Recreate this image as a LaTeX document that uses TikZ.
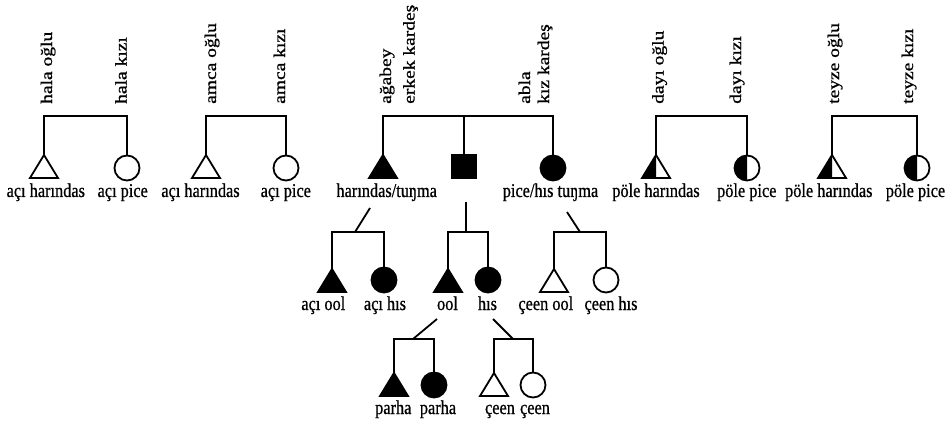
\documentclass[tikz,border=0pt]{standalone}
\usepackage{fontspec}
\setmainfont[FakeBold=0.8]{Liberation Serif}
\begin{document}
\begin{tikzpicture}[x=1pt,y=-1pt,
  ln/.style={line width=1.8pt},
  lbl/.style={font=\fontsize{19.5}{22}\selectfont, inner sep=0pt, xscale=0.836, anchor=base},
  vlbl/.style={font=\fontsize{19.5}{22}\selectfont, inner sep=0pt, xscale=0.836, rotate=90, anchor=base west},
  pics/tri/.style={code={\draw[ln,fill=white] (0,0) -- (14,23) -- (-14,23) -- cycle;}},
  pics/ftri/.style={code={\draw[ln,fill=black] (0,0) -- (14,23) -- (-14,23) -- cycle;}},
  pics/htri/.style={code={\fill[black] (0,0) -- (0,23) -- (-14,23) -- cycle;
      \draw[ln] (0,0) -- (14,23) -- (-14,23) -- cycle;}},
  pics/circ/.style={code={\draw[ln,fill=white] (0,12.5) circle[radius=12.5];}},
  pics/fcirc/.style={code={\draw[ln,fill=black] (0,12.5) circle[radius=12.5];}},
  pics/hcirc/.style={code={\fill[black] (0,25) arc[start angle=90,end angle=270,radius=12.5] -- cycle;
      \draw[ln] (0,12.5) circle[radius=12.5];}},
  pics/fsq/.style={code={\draw[ln,fill=black] (-12,0) rectangle (12,23);}}
]
\useasboundingbox (0,0) rectangle (952,427);
\fill[white] (0,0) rectangle (952,427);

% ---------- level 1 ----------
% hala
\coordinate (g1b) at (44,116);
\coordinate (p1a) at (44,155);
\coordinate (p1b) at (127,155.5);
\draw[ln] (p1a) -- (g1b) -| (p1b);
\pic at (p1a) {tri}; \pic at (p1b) {circ};
\node[vlbl] (v1a) at (52,104) {hala oğlu};
\node[vlbl] (v1b) at (126.5,104) {hala kızı};
\node[lbl] (t1a) at (45.8,197) {açı harındas};
\node[lbl] (t1b) at (122.7,197) {açı pice};

% amca
\coordinate (g2b) at (206,116);
\coordinate (p2a) at (206,155);
\coordinate (p2b) at (286,155.5);
\draw[ln] (p2a) -- (g2b) -| (p2b);
\pic at (p2a) {tri}; \pic at (p2b) {circ};
\node[vlbl] (v2a) at (216,104) {amca oğlu};
\node[vlbl] (v2b) at (285,104) {amca kızı};
\node[lbl] (t2a) at (200.5,197) {açı harındas};
\node[lbl] (t2b) at (285.8,197) {açı pice};

% siblings
\coordinate (g3b) at (383,116);
\coordinate (p3a) at (383,155);
\coordinate (p3m) at (464,155);
\coordinate (p3b) at (553,155.5);
\draw[ln] (p3a) -- (g3b) -| (p3b);
\draw[ln] (p3m) -- (p3m |- g3b);
\pic at (p3a) {ftri}; \pic at (p3m) {fsq}; \pic at (p3b) {fcirc};
\node[vlbl] (v3a) at (391,104) {ağabey};
\node[vlbl] (v3b) at (414.5,104) {erkek kardeş};
\node[vlbl] (v3c) at (530,104) {abla};
\node[vlbl] (v3d) at (549,104) {kız kardeş};
\node[lbl] (t3a) at (386.7,197) {harındas/tuŋma};
\node[lbl] (t3b) at (550.5,197) {pice/hıs tuŋma};

% dayı
\coordinate (g4b) at (656,116);
\coordinate (p4a) at (656,155);
\coordinate (p4b) at (747,155.5);
\draw[ln] (p4a) -- (g4b) -| (p4b);
\pic at (p4a) {htri}; \pic at (p4b) {hcirc};
\node[vlbl] (v4a) at (663.5,104) {dayı oğlu};
\node[vlbl] (v4b) at (741,104) {dayı kızı};
\node[lbl] (t4a) at (656,197) {pöle harındas};
\node[lbl] (t4b) at (746.8,197) {pöle pice};

% teyze
\coordinate (g5b) at (832,116);
\coordinate (p5a) at (832,155);
\coordinate (p5b) at (917,155.5);
\draw[ln] (p5a) -- (g5b) -| (p5b);
\pic at (p5a) {htri}; \pic at (p5b) {hcirc};
\node[vlbl] (v5a) at (839,104) {teyze oğlu};
\node[vlbl] (v5b) at (913,104) {teyze kızı};
\node[lbl] (t5a) at (828.8,197) {pöle harındas};
\node[lbl] (t5b) at (915.5,197) {pöle pice};

% ---------- level 2 ----------
\coordinate (aT) at (370,208);
\coordinate (aJ) at (355,232);
\coordinate (aA) at (332,269);
\coordinate (aB) at (384,267.5);
\draw[ln] (aT) -- (aJ);
\draw[ln] (aA) |- (aJ) -| (aB);
\pic at (aA) {ftri}; \pic at (aB) {fcirc};
\node[lbl] (tAa) at (323.3,310) {açı ool};
\node[lbl] (tAb) at (385,310) {açı hıs};

\coordinate (bT) at (466,202);
\coordinate (bJ) at (466,232);
\coordinate (bA) at (448,269);
\coordinate (bB) at (488,267.5);
\draw[ln] (bT) -- (bJ);
\draw[ln] (bA) |- (bJ) -| (bB);
\pic at (bA) {ftri}; \pic at (bB) {fcirc};
\node[lbl] (tBa) at (447.5,310) {ool};
\node[lbl] (tBb) at (487.5,310) {hıs};

\coordinate (cT) at (567,212);
\coordinate (cJ) at (580,232);
\coordinate (cA) at (554,269);
\coordinate (cB) at (606,267.5);
\draw[ln] (cT) -- (cJ);
\draw[ln] (cA) |- (cJ) -| (cB);
\pic at (cA) {tri}; \pic at (cB) {circ};
\node[lbl] (tCa) at (545.8,310) {çeen ool};
\node[lbl] (tCb) at (611,310) {çeen hıs};

% ---------- level 3 ----------
\coordinate (dT) at (437,319);
\coordinate (dJ) at (413,339);
\coordinate (dA) at (394,373);
\coordinate (dB) at (434,372.5);
\draw[ln] (dT) -- (dJ);
\draw[ln] (dA) |- (dJ) -| (dB);
\pic at (dA) {ftri}; \pic at (dB) {fcirc};
\node[lbl] (tDa) at (393.3,414) {parha};
\node[lbl] (tDb) at (438,414) {parha};

\coordinate (eT) at (493,319);
\coordinate (eJ) at (513,339);
\coordinate (eA) at (494,373);
\coordinate (eB) at (533,372.5);
\draw[ln] (eT) -- (eJ);
\draw[ln] (eA) |- (eJ) -| (eB);
\pic at (eA) {tri}; \pic at (eB) {circ};
\node[lbl] (tEa) at (500,414) {çeen};
\node[lbl] (tEb) at (535,414) {çeen};
\end{tikzpicture}
\end{document}
